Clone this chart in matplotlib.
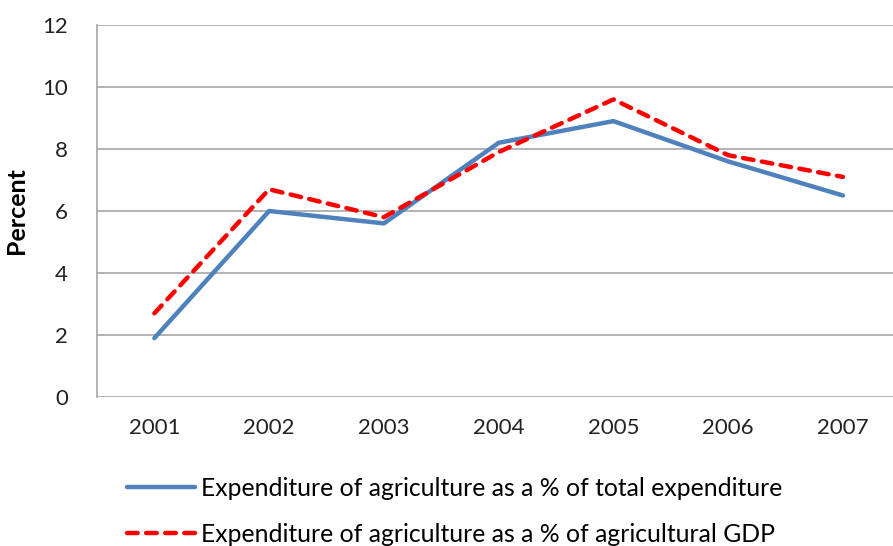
import numpy as np
import matplotlib.pyplot as plt

plt.rcParams['font.family'] = ['Lato', 'DejaVu Sans']

years = ['2001', '2002', '2003', '2004', '2005', '2006', '2007']
pct_total_exp = [1.9, 6.0, 5.6, 8.2, 8.9, 7.6, 6.5]
pct_agri_gdp = [2.7, 6.7, 5.8, 7.9, 9.6, 7.8, 7.1]

fig = plt.figure(figsize=(8.93, 5.46), dpi=100)
ax = fig.add_axes([0.1086, 0.2729, 0.8996, 0.6813])

x = np.arange(len(years))
ax.plot(x, pct_total_exp, color='#4F81BD', lw=3.2, solid_capstyle='round',
        label='Expenditure of agriculture as a % of total expenditure', zorder=3)
ax.plot(x, pct_agri_gdp, color='#FF0000', lw=3.2, dashes=(2.4, 1.9),
        dash_capstyle='round',
        label='Expenditure of agriculture as a % of agricultural GDP', zorder=4)

ax.set_xlim(-0.5, 6.5)
ax.set_ylim(0, 12)
ax.set_yticks(range(0, 13, 2))
ax.set_xticks(x)
ax.set_xticklabels(years)
ax.tick_params(axis='both', length=0, labelsize=16, colors='#222222')
ax.tick_params(axis='y', pad=21)
ax.tick_params(axis='x', pad=15)
ax.yaxis.grid(True, color='#A6A6A6', lw=1.2)
ax.set_axisbelow(True)
for s in ['top', 'right', 'bottom']:
    ax.spines[s].set_visible(False)
ax.spines['left'].set_color('#A6A6A6')
ax.spines['left'].set_linewidth(1.2)
ax.set_ylabel('Percent', fontsize=18, fontweight='bold', labelpad=10)

fig.legend(loc='upper left', bbox_to_anchor=(127 / 893, 1 - 477 / 546), frameon=False,
           fontsize=17.8, handlelength=2.75, handletextpad=0.25, labelspacing=0.92,
           borderaxespad=0, borderpad=0)

fig.savefig('out.png', dpi=100)
